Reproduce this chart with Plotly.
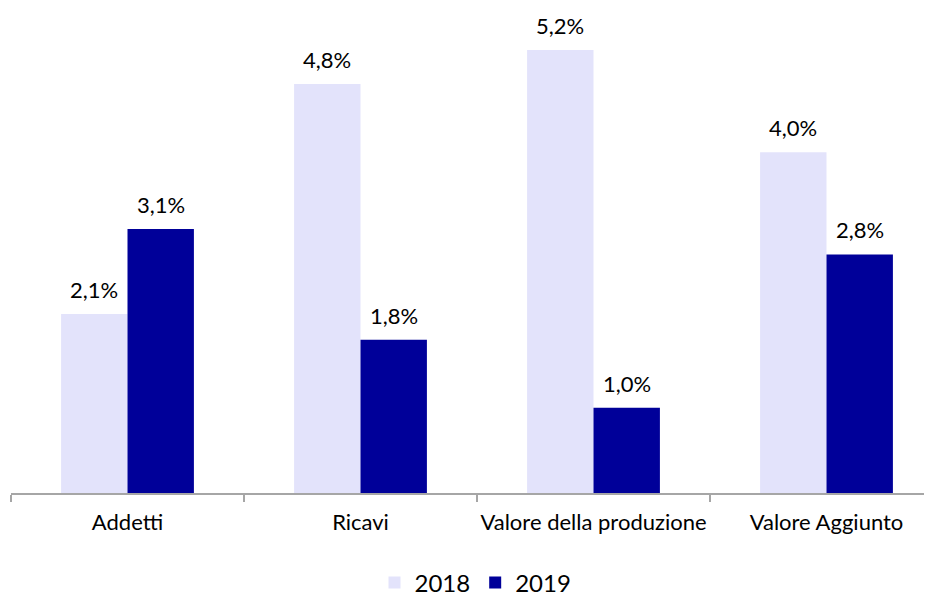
import plotly.graph_objects as go

categories = ["Addetti", "Ricavi", "Valore della produzione", "Valore Aggiunto"]
values_2018 = [2.1, 4.8, 5.2, 4.0]
values_2019 = [3.1, 1.8, 1.0, 2.8]
series_names = ["2018", "2019"]

colors = ["#E3E3FB", "#000099"]
FONT = "Lato"

fig = go.Figure()
for name, vals, col in zip(series_names, [values_2018, values_2019], colors):
    fig.add_trace(go.Bar(
        x=categories, y=vals, name=name, marker=dict(color=col, line=dict(width=0)),
    ))

def fmt(v):
    return f"{v:.1f}".replace(".", ",") + "%"

bar_px = 66.5
for shift, vals in zip([-bar_px / 2, bar_px / 2], [values_2018, values_2019]):
    for c, v in zip(categories, vals):
        fig.add_annotation(
            x=c, y=v, xref="x", yref="y", text=fmt(v), showarrow=False,
            xshift=shift, yshift=9, yanchor="bottom",
            font=dict(family=FONT, size=22, color="#000000"),
        )

fig.update_layout(
    width=932, height=596,
    margin=dict(l=3, r=0, t=22, b=111, autoexpand=False),
    paper_bgcolor="white", plot_bgcolor="white",
    barmode="group", bargap=0.43, bargroupgap=0,
    font=dict(family=FONT, size=22, color="#000000"),
    showlegend=True,
    legend=dict(
        orientation="h", x=0.5, xanchor="center",
        yref="container", y=1 - 575 / 596, yanchor="middle",
        font=dict(family=FONT, size=24, color="#000000"),
        itemwidth=30, traceorder="normal",
    ),
    xaxis=dict(
        range=[-0.5, 3.5 - 3 / 233], showgrid=False, zeroline=False,
        showline=True, linecolor="#A6A6A6", linewidth=1.5,
        ticks="outside", tickson="boundaries", ticklen=7, tickcolor="#A6A6A6",
        tickwidth=1.5, ticklabelstandoff=9, tickangle=0,
        tickfont=dict(family=FONT, size=22, color="#000000"),
        fixedrange=True,
    ),
    yaxis=dict(
        range=[0, 463 / 85.2], showgrid=False, zeroline=False, showline=False,
        showticklabels=False, ticks="", fixedrange=True,
    ),
)

fig.write_html("out.html")
